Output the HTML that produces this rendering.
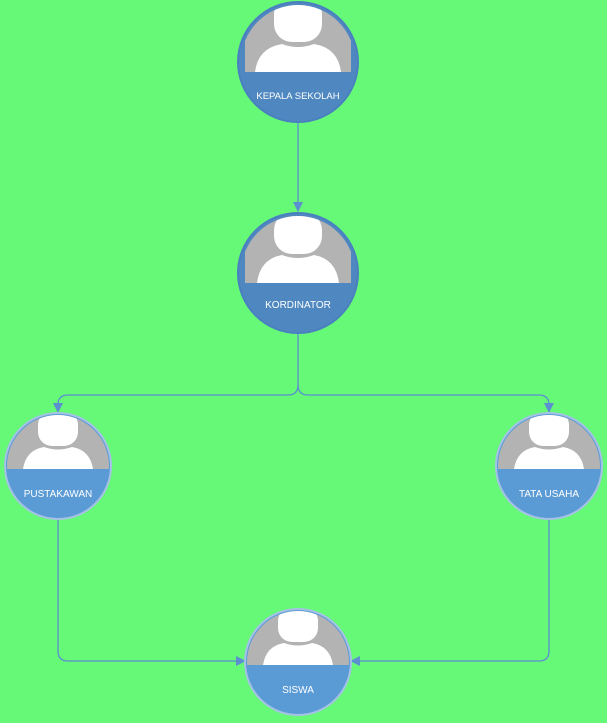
<!DOCTYPE html>
<html><head><style>body{margin:0;background:#66f977}svg{display:block}</style></head><body>
<svg width="607" height="723" viewBox="0 0 607 723" xmlns="http://www.w3.org/2000/svg" font-family="Liberation Sans, sans-serif">
<defs>
<marker id="a" markerWidth="10" markerHeight="10" refX="9" refY="5" orient="auto" markerUnits="userSpaceOnUse"><path d="M0,0 L10,5 L0,10 Z" fill="#5b8fd0"/></marker>
<clipPath id="c1"><circle cx="298" cy="62" r="57"/></clipPath>
<clipPath id="c2"><circle cx="298" cy="273" r="57"/></clipPath>
<clipPath id="c3"><circle cx="58" cy="466" r="51"/></clipPath>
<clipPath id="c4"><circle cx="549" cy="466" r="51"/></clipPath>
<clipPath id="c5"><circle cx="298" cy="662" r="51"/></clipPath>
</defs>
<g fill="none" stroke="#5b8fd0" stroke-width="1.3">
<path d="M298 122 V211" marker-end="url(#a)"/>
<path d="M298 334 V385 Q298 395 288 395 H68 Q58 395 58 405 V412" marker-end="url(#a)"/>
<path d="M298 385 Q298 395 308 395 H539 Q549 395 549 405 V412" marker-end="url(#a)"/>
<path d="M58 519 V651 Q58 661 68 661 H245" marker-end="url(#a)"/>
<path d="M549 519 V651 Q549 661 539 661 H351" marker-end="url(#a)"/>
</g>
<g>
<circle cx="298" cy="62" r="60" fill="#4f88c0" stroke="#4a7fc0" stroke-width="2"/>
<g clip-path="url(#c1)"><rect x="245" y="0" width="106" height="72" fill="#b3b3b3"/>
<path d="M255 72 Q258 48 282 44 Q298 50 314 44 Q338 48 341 72 Z" fill="#fff"/>
<rect x="274" y="-4" width="48" height="46" rx="18" fill="#fff"/></g>
<text x="298" y="99" font-size="9.5" fill="#fff" text-anchor="middle">KEPALA SEKOLAH</text>
</g>
<g>
<circle cx="298" cy="273" r="60" fill="#4f88c0" stroke="#4a7fc0" stroke-width="2"/>
<g clip-path="url(#c2)"><rect x="245" y="210" width="106" height="73" fill="#b3b3b3"/>
<path d="M257 283 Q260 259 282 255 Q298 261 314 255 Q336 259 339 283 Z" fill="#fff"/>
<rect x="274" y="212" width="48" height="42" rx="18" fill="#fff"/></g>
<text x="298" y="308" font-size="10" fill="#fff" text-anchor="middle">KORDINATOR</text>
</g>
<g>
<circle cx="58" cy="466" r="53" fill="#5b9bd5" stroke="#a5c2e6" stroke-width="2"/>
<g clip-path="url(#c3)"><rect x="5" y="410" width="106" height="59" fill="#b3b3b3"/>
<path d="M23 469 Q26 450 44 447 Q58 452 72 447 Q90 450 93 469 Z" fill="#fff"/>
<rect x="38" y="411" width="40" height="35" rx="14" fill="#fff"/></g>
<text x="58" y="497" font-size="10" fill="#fff" text-anchor="middle">PUSTAKAWAN</text>
</g>
<g>
<circle cx="549" cy="466" r="53" fill="#5b9bd5" stroke="#a5c2e6" stroke-width="2"/>
<g clip-path="url(#c4)"><rect x="496" y="410" width="106" height="59" fill="#b3b3b3"/>
<path d="M514 469 Q517 450 535 447 Q549 452 563 447 Q581 450 584 469 Z" fill="#fff"/>
<rect x="529" y="411" width="40" height="35" rx="14" fill="#fff"/></g>
<text x="549" y="497" font-size="10" fill="#fff" text-anchor="middle">TATA USAHA</text>
</g>
<g>
<circle cx="298" cy="662" r="53" fill="#5b9bd5" stroke="#a5c2e6" stroke-width="2"/>
<g clip-path="url(#c5)"><rect x="245" y="606" width="106" height="59" fill="#b3b3b3"/>
<path d="M263 665 Q266 646 284 643 Q298 648 312 643 Q330 646 333 665 Z" fill="#fff"/>
<rect x="278" y="607" width="40" height="35" rx="14" fill="#fff"/></g>
<text x="298" y="693" font-size="10" fill="#fff" text-anchor="middle">SISWA</text>
</g>
</svg>
</body></html>
